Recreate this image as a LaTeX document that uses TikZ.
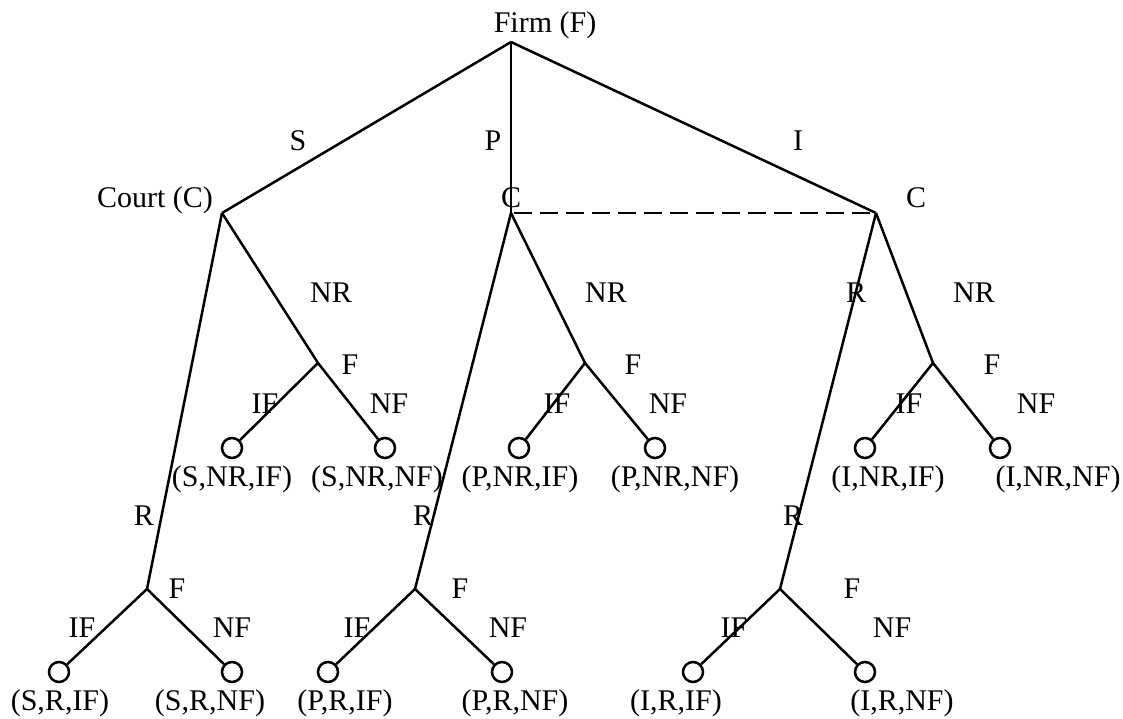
\documentclass[tikz,border=0pt]{standalone}
\usepackage{fontspec}
\setmainfont{Liberation Serif}
\begin{document}
\begin{tikzpicture}[x=1pt,y=-1pt,
  edge/.style={line width=2.5pt},
  info/.style={line width=2.8pt, dash pattern=on 18pt off 8pt},
  leaf/.style={circle, draw, line width=2.5pt, minimum size=20pt, inner sep=0pt},
  lbl/.style={font=\fontsize{30}{35}\selectfont, inner sep=0pt, anchor=base}]
\useasboundingbox (0,0) rectangle (1123,718);
% decision points
\coordinate (root) at (511,42);
\coordinate (c1) at (222,213);
\coordinate (c2) at (511,213);
\coordinate (c3) at (876,213);
\coordinate (f1) at (318,363);
\coordinate (f2) at (585,363);
\coordinate (f3) at (933,363);
\coordinate (f4) at (147,589);
\coordinate (f5) at (415,589);
\coordinate (f6) at (780,589);
% leaves
\node[leaf] (l1) at (232,448) {};
\node[leaf] (l2) at (385,448) {};
\node[leaf] (l3) at (519,448) {};
\node[leaf] (l4) at (655,448) {};
\node[leaf] (l5) at (865,448) {};
\node[leaf] (l6) at (1000,448) {};
\node[leaf] (l7) at (59,672) {};
\node[leaf] (l8) at (232,672) {};
\node[leaf] (l9) at (328,672) {};
\node[leaf] (l10) at (502,672) {};
\node[leaf] (l11) at (693,672) {};
\node[leaf] (l12) at (865,672) {};
% edges
\draw[edge] (root) -- (c1);
\draw[edge] (root) -- (c2);
\draw[edge] (root) -- (c3);
\draw[edge] (c1) -- (f1);
\draw[edge] (c1) -- (f4);
\draw[edge] (c2) -- (f2);
\draw[edge] (c2) -- (f5);
\draw[edge] (c3) -- (f3);
\draw[edge] (c3) -- (f6);
\draw[edge] (f1) -- (l1);
\draw[edge] (f1) -- (l2);
\draw[edge] (f2) -- (l3);
\draw[edge] (f2) -- (l4);
\draw[edge] (f3) -- (l5);
\draw[edge] (f3) -- (l6);
\draw[edge] (f4) -- (l7);
\draw[edge] (f4) -- (l8);
\draw[edge] (f5) -- (l9);
\draw[edge] (f5) -- (l10);
\draw[edge] (f6) -- (l11);
\draw[edge] (f6) -- (l12);
\draw[info] ([xshift=3pt]c2) -- (c3);
% player labels
\node[lbl] (tFirm) at (545,32) {Firm (F)};
\node[lbl] (tCourt) at (155,207) {Court (C)};
\node[lbl] (tC2) at (511,207) {C};
\node[lbl] (tC3) at (916,207) {C};
% first-level action labels
\node[lbl] (tS) at (298,150) {S};
\node[lbl] (tP) at (493,150) {P};
\node[lbl] (tI) at (798,150) {I};
% court action labels
\node[lbl] (tNR1) at (331,302) {NR};
\node[lbl] (tNR2) at (606,302) {NR};
\node[lbl] (tR3) at (856,302) {R};
\node[lbl] (tNR3) at (974,302) {NR};
\node[lbl] (tR1) at (144,525) {R};
\node[lbl] (tR2) at (423,525) {R};
\node[lbl] (tR3b) at (793,525) {R};
% firm labels upper
\node[lbl] (tF1) at (350,374) {F};
\node[lbl] (tF2) at (633,374) {F};
\node[lbl] (tF3) at (992,374) {F};
\node[lbl] (tIF1) at (265,413) {IF};
\node[lbl] (tNF1) at (389,413) {NF};
\node[lbl] (tIF2) at (557,413) {IF};
\node[lbl] (tNF2) at (668,413) {NF};
\node[lbl] (tIF3) at (909,413) {IF};
\node[lbl] (tNF3) at (1036,413) {NF};
% firm labels lower
\node[lbl] (tF4) at (177,598) {F};
\node[lbl] (tF5) at (460,598) {F};
\node[lbl] (tF6) at (852,598) {F};
\node[lbl] (tIF4) at (82,637) {IF};
\node[lbl] (tNF4) at (232,637) {NF};
\node[lbl] (tIF5) at (357,637) {IF};
\node[lbl] (tNF5) at (508,637) {NF};
\node[lbl] (tIF6) at (734,637) {IF};
\node[lbl] (tNF6) at (892,637) {NF};
% outcome labels
\node[lbl] (o1) at (232,486) {(S,NR,IF)};
\node[lbl] (o2) at (377,486) {(S,NR,NF)};
\node[lbl] (o3) at (520,486) {(P,NR,IF)};
\node[lbl] (o4) at (675,486) {(P,NR,NF)};
\node[lbl] (o5) at (888,486) {(I,NR,IF)};
\node[lbl] (o6) at (1058,486) {(I,NR,NF)};
\node[lbl] (o7) at (60,710) {(S,R,IF)};
\node[lbl] (o8) at (210,710) {(S,R,NF)};
\node[lbl] (o9) at (345,710) {(P,R,IF)};
\node[lbl] (o10) at (515,710) {(P,R,NF)};
\node[lbl] (o11) at (676,710) {(I,R,IF)};
\node[lbl] (o12) at (902,710) {(I,R,NF)};
\end{tikzpicture}
\end{document}
